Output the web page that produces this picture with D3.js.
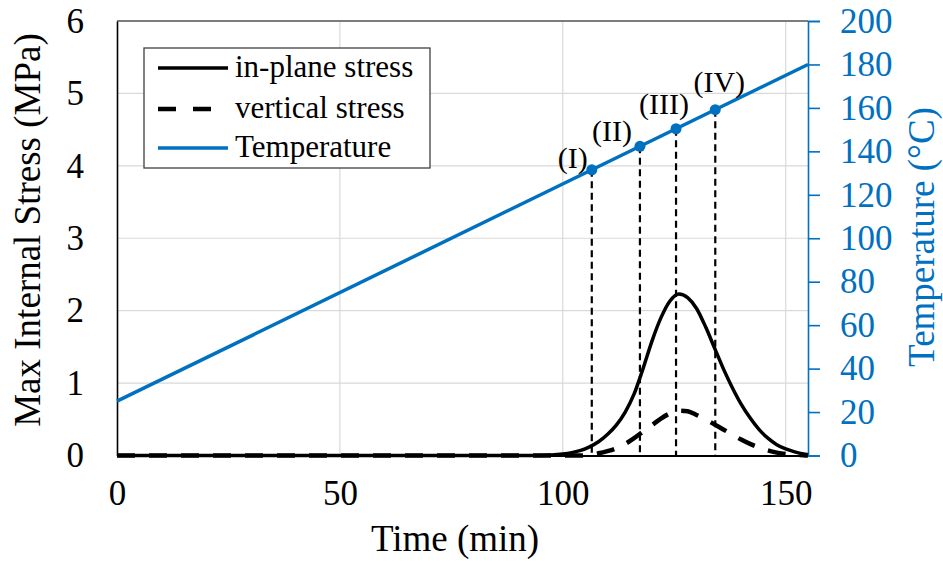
<!DOCTYPE html>
<html>
<head>
<meta charset="utf-8">
<script src="https://cdn.jsdelivr.net/npm/d3@7"></script>
<style>
  html, body { margin: 0; padding: 0; background: #fff; }
  svg { display: block; }
  text { font-family: "Liberation Serif", "Times New Roman", serif; }
</style>
</head>
<body>
<svg id="chart" width="943" height="561"></svg>
<script>
// Time axis (min) and stress series (MPa)
const stressTime = [0, 95, 100, 102, 104, 106, 108, 110, 112, 114, 116, 118, 120, 122, 124, 126, 128, 130, 132, 134, 136, 138, 140, 142, 144, 146, 148, 150, 152, 154, 155];
const inPlaneStress = [0, 0, 0.02, 0.04, 0.07, 0.12, 0.19, 0.29, 0.42, 0.6, 0.85, 1.2, 1.58, 1.9, 2.13, 2.23, 2.18, 2.03, 1.78, 1.49, 1.2, 0.94, 0.71, 0.52, 0.36, 0.24, 0.15, 0.09, 0.05, 0.02, 0.01];
const verticalStress = [0, 0, 0, 0, 0, 0.01, 0.03, 0.06, 0.1, 0.16, 0.24, 0.33, 0.42, 0.51, 0.58, 0.62, 0.61, 0.56, 0.5, 0.43, 0.36, 0.29, 0.22, 0.16, 0.11, 0.07, 0.04, 0.02, 0.01, 0.005, 0];

// Heating ramp (°C)
const tempTime = [0, 155];
const temperature = [25, 180];

// Marked stages on the heating ramp
const stageLabels = ["(I)", "(II)", "(III)", "(IV)"];
const stageTime = [106.5, 117.3, 125.4, 134.2];
const stageTemp = [131.5, 142.3, 150.4, 159.2];

// Axis ticks
const timeTicks = [0, 50, 100, 150];
const stressTicks = [0, 1, 2, 3, 4, 5, 6];
const tempTicks = [0, 20, 40, 60, 80, 100, 120, 140, 160, 180, 200];

const legendLabels = ["in-plane stress", "vertical stress", "Temperature"];

// ---- layout ----
const plot = { left: 117, right: 808, top: 21, bottom: 455.5 };
const BLUE = "#0070C0";
const GRID = "#d9d9d9";
const SERIF = "'Liberation Serif', 'Times New Roman', serif";

const svg = d3.select("#chart");

const x = d3.scaleLinear().domain([0, 155]).range([plot.left, plot.right]);
const yL = d3.scaleLinear().domain([0, 6]).range([plot.bottom, plot.top]);
const yR = d3.scaleLinear().domain([0, 200]).range([plot.bottom, plot.top]);

// gridlines
const grid = svg.append("g");
grid.selectAll("line.h").data(stressTicks.slice(1)).join("line")
  .attr("x1", plot.left).attr("x2", plot.right)
  .attr("y1", d => yL(d)).attr("y2", d => yL(d))
  .attr("stroke", GRID).attr("stroke-width", 1.2);
grid.selectAll("line.v").data(timeTicks.slice(1)).join("line")
  .attr("x1", d => x(d)).attr("x2", d => x(d))
  .attr("y1", plot.top).attr("y2", plot.bottom)
  .attr("stroke", GRID).attr("stroke-width", 1.2);

// top frame
svg.append("line")
  .attr("x1", plot.left).attr("x2", plot.right)
  .attr("y1", plot.top).attr("y2", plot.top)
  .attr("stroke", "#595959").attr("stroke-width", 1.5);

// left axis
const axL = svg.append("g").attr("transform", `translate(${plot.left},0)`)
  .call(d3.axisLeft(yL).tickValues(stressTicks).tickSize(0).tickPadding(33).tickFormat(d3.format("d")));
axL.select(".domain").attr("stroke", "#000").attr("stroke-width", 1.6);
axL.selectAll("text").attr("font-size", 35).attr("fill", "#000").attr("font-family", SERIF);

// bottom axis
const axB = svg.append("g").attr("transform", `translate(0,${plot.bottom})`)
  .call(d3.axisBottom(x).tickValues(timeTicks).tickSize(0).tickPadding(25).tickFormat(d3.format("d")));
axB.select(".domain").attr("stroke", "#000").attr("stroke-width", 2);
axB.selectAll("text").attr("font-size", 35).attr("fill", "#000").attr("font-family", SERIF);

// right axis
const axR = svg.append("g").attr("transform", `translate(${plot.right},0)`)
  .call(d3.axisRight(yR).tickValues(tempTicks).tickSize(12).tickPadding(20).tickFormat(d3.format("d")));
axR.select(".domain").attr("stroke", BLUE).attr("stroke-width", 1.6);
axR.selectAll(".tick line").attr("stroke", BLUE).attr("stroke-width", 1.6);
axR.selectAll("text").attr("font-size", 35).attr("fill", BLUE).attr("font-family", SERIF);

// axis titles
svg.append("text")
  .attr("transform", `translate(40,230) rotate(-90)`)
  .attr("text-anchor", "middle")
  .attr("font-size", 37).attr("fill", "#000")
  .text("Max Internal Stress (MPa)");
svg.append("text")
  .attr("x", 455).attr("y", 551)
  .attr("text-anchor", "middle")
  .attr("font-size", 37).attr("fill", "#000")
  .text("Time (min)");
svg.append("text")
  .attr("transform", `translate(934,237) rotate(-90)`)
  .attr("text-anchor", "middle")
  .attr("font-size", 37).attr("fill", BLUE)
  .text("Temperature (°C)");

// stress curves
const stressRows = stressTime.map((t, i) => ({ t, ip: inPlaneStress[i], v: verticalStress[i] }));
const lineIP = d3.line().x(d => x(d.t)).y(d => yL(d.ip)).curve(d3.curveMonotoneX);
const lineV = d3.line().x(d => x(d.t)).y(d => yL(d.v)).curve(d3.curveMonotoneX);

svg.append("path").datum(stressRows).attr("d", lineV)
  .attr("fill", "none").attr("stroke", "#000").attr("stroke-width", 4.5)
  .attr("stroke-dasharray", "18,14");
svg.append("path").datum(stressRows).attr("d", lineIP)
  .attr("fill", "none").attr("stroke", "#000").attr("stroke-width", 3.5);

// stage drop lines
const stages = stageLabels.map((s, i) => ({ s, t: stageTime[i], T: stageTemp[i] }));
svg.selectAll("line.drop").data(stages).join("line")
  .attr("x1", d => x(d.t)).attr("x2", d => x(d.t))
  .attr("y1", d => yR(d.T)).attr("y2", plot.bottom)
  .attr("stroke", "#000").attr("stroke-width", 2.2)
  .attr("stroke-dasharray", "7,4.5");

// temperature ramp
const tempRows = tempTime.map((t, i) => ({ t, T: temperature[i] }));
svg.append("path").datum(tempRows)
  .attr("d", d3.line().x(d => x(d.t)).y(d => yR(d.T)))
  .attr("fill", "none").attr("stroke", BLUE).attr("stroke-width", 3.5);

// stage markers and labels
svg.selectAll("circle.stage").data(stages).join("circle")
  .attr("cx", d => x(d.t)).attr("cy", d => yR(d.T)).attr("r", 5.5)
  .attr("fill", BLUE);
const labelOffset = [[-19, -12], [-28, -16], [-12, -25], [4, -28]];
svg.selectAll("text.stage").data(stages).join("text")
  .attr("x", (d, i) => x(d.t) + labelOffset[i][0])
  .attr("y", (d, i) => yR(d.T) + labelOffset[i][1])
  .attr("text-anchor", "middle").attr("dominant-baseline", "central")
  .attr("font-size", 30).attr("fill", "#000")
  .text(d => d.s);

// legend
const lg = svg.append("g");
lg.append("rect").attr("x", 144).attr("y", 48).attr("width", 286).attr("height", 120)
  .attr("fill", "#fff").attr("stroke", "#404040").attr("stroke-width", 1.3);
const legendStyles = [
  { stroke: "#000", width: 3.5, dash: null },
  { stroke: "#000", width: 4.5, dash: "18,17" },
  { stroke: BLUE, width: 3.5, dash: null }
];
const rowY = [68, 109, 148];
legendLabels.forEach((label, i) => {
  lg.append("line").attr("x1", 158).attr("x2", 228).attr("y1", rowY[i]).attr("y2", rowY[i])
    .attr("stroke", legendStyles[i].stroke).attr("stroke-width", legendStyles[i].width)
    .attr("stroke-dasharray", legendStyles[i].dash);
  lg.append("text").attr("x", 235).attr("y", rowY[i] + 9)
    .attr("font-size", 31).attr("fill", "#000").text(label);
});
</script>
</body>
</html>
